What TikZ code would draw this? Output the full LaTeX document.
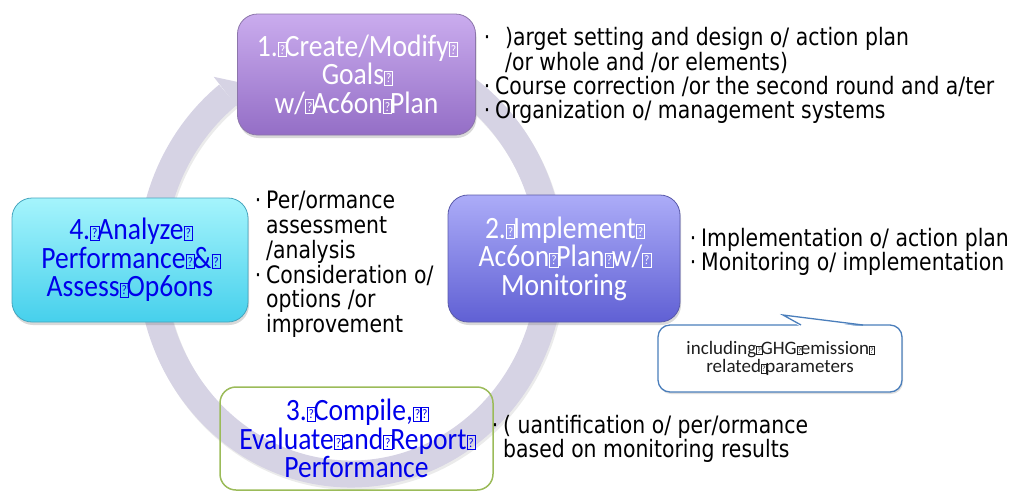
\documentclass[tikz,border=0pt]{standalone}
\usepackage{fontspec}
\usetikzlibrary{shadows}
\newfontfamily\tfont{Carlito}[FakeStretch=0.89]
\newfontfamily\bfont{DejaVu Sans}[FakeStretch=0.85]
\newfontfamily\cfont{Carlito}
\definecolor{ringc}{RGB}{214,211,228}
\definecolor{pA}{RGB}{202,172,238}
\definecolor{pB}{RGB}{148,110,198}
\definecolor{pD}{RGB}{140,118,170}
\definecolor{vA}{RGB}{172,172,248}
\definecolor{vB}{RGB}{96,96,212}
\definecolor{vD}{RGB}{90,90,170}
\definecolor{cA}{RGB}{165,244,252}
\definecolor{cB}{RGB}{70,208,236}
\definecolor{cD}{RGB}{70,165,190}
\definecolor{gD}{RGB}{155,187,89}
\definecolor{tblue}{RGB}{0,0,235}
\definecolor{callD}{RGB}{74,126,187}
\definecolor{ctext}{RGB}{30,30,30}
\newcommand\qb{\makebox[0.23em][l]{\setlength{\fboxsep}{0pt}\setlength{\fboxrule}{0.03em}\fbox{\rule{0pt}{0.42em}\makebox[0.24em]{\raisebox{0.06em}{\scalebox{0.42}{?}}}}}}
\newcommand\bl{\makebox[16pt][c]{·}}
\begin{document}
\begin{tikzpicture}[x=1pt,y=-1pt,
  ringline/.style={draw=ringc, line width=27pt},
  tbox/.style={rounded corners=20pt, inner sep=0pt, align=center, line width=0.8pt,
    font=\tfont\fontsize{31}{28.5}\selectfont},
  gbox/.style={tbox, drop shadow={shadow xshift=1pt, shadow yshift=-3pt, opacity=0.3}},
  btext/.style={inner sep=0pt, anchor=base west, font=\bfont\fontsize{24}{24.5}\selectfont},
  cbox/.style={draw=callD, line width=1.3pt, fill=white, rounded corners=12pt,
    inner sep=0pt, align=center, text=ctext, font=\cfont\fontsize{19}{18.5}\selectfont,
    drop shadow={shadow xshift=1pt, shadow yshift=-2pt, opacity=0.25}}
]
\useasboundingbox (0,0) rectangle (1011,491);
% ring
\draw[line width=27pt, draw=black, opacity=0.08] ([shift={(-80:200 and 212)}]352.5,264.5) arc[start angle=-80, end angle=232, x radius=200, y radius=212];
\draw[ringline] ([shift={(-80:200 and 212)}]351,262) arc[start angle=-80, end angle=232, x radius=200, y radius=212];
\fill[ringc] ([shift={(232:223 and 235)}]351,262) -- ([shift={(237.5:200 and 212)}]351,262) -- ([shift={(232:177 and 189)}]351,262) -- cycle;
% boxes
\node[tbox, rounded corners=16pt, minimum width=273pt, minimum height=103pt, draw=gD, line width=1.5pt, text=tblue] (b3) at (356.5,438.5) {3.\qb Compile,\qb\qb\\Evaluate\qb and\qb Report\qb\\Performance};
\node[gbox, minimum width=238pt, minimum height=121pt, top color=pA, bottom color=pB, draw=pD, text=white] (b1) at (356.5,74.5) {1.\qb Create/Modify\qb\\Goals\qb\\w/\qb Ac6on\qb Plan};
\node[gbox, minimum width=232pt, minimum height=127pt, top color=vA, bottom color=vB, draw=vD, text=white] (b2) at (564,258.5) {2.\qb Implement\qb\\Ac6on\qb Plan\qb w/\qb\\Monitoring};
\node[gbox, minimum width=236pt, minimum height=124pt, top color=cA, bottom color=cB, draw=cD, text=tblue] (b4) at (130,260) {4.\qb Analyze\qb\\Performance\qb\&\qb\\Assess\qb Op6ons};
% callout
\node[cbox, minimum width=244pt, minimum height=67pt] (cb) at (780,358.5) {including\qb GHG\qb emission\qb\\related\qb parameters};
\coordinate (tip) at (783,315);
\fill[white] (801,327) -- (tip) -- (863,327) -- cycle;
\draw[draw=callD, line width=1.3pt, line join=miter] (801,325) -- (tip) -- (863,325);
% bullet texts
\node[btext] (t1a) at (479,45.7) {\bl\hspace{10pt})arget setting and design o/ action plan};
\node[btext] (t1b) at (505,70) {/or whole and /or elements)};
\node[btext] (t1c) at (479,94) {\bl Course correction /or the second round and a/ter};
\node[btext] (t1d) at (479,118) {\bl Organization o/ management systems};
\node[btext] (t2a) at (250,208) {\bl Per/ormance};
\node[btext] (t2b) at (266,233) {assessment};
\node[btext] (t2c) at (266,258) {/analysis};
\node[btext] (t2d) at (250,283) {\bl Consideration o/};
\node[btext] (t2e) at (266,307) {options /or};
\node[btext] (t2f) at (266,332) {improvement};
\node[btext] (t3a) at (685,246) {\bl Implementation o/ action plan};
\node[btext] (t3b) at (685,270) {\bl Monitoring o/ implementation};
\node[btext] (t4a) at (487,433) {\bl( uantification o/ per/ormance};
\node[btext] (t4b) at (503,457) {based on monitoring results};
\end{tikzpicture}
\end{document}
